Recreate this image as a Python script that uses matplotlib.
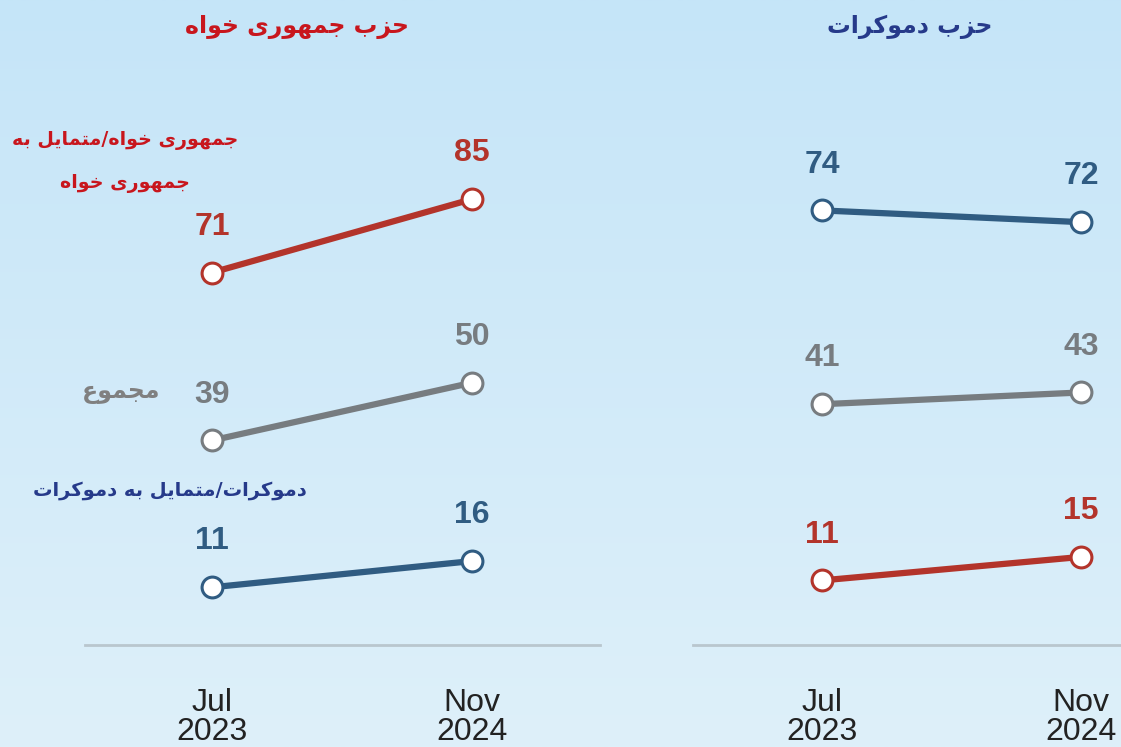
import numpy as np
import matplotlib
matplotlib.use("Agg")
import matplotlib.pyplot as plt

# داده ها
months = ["Jul\n2023", "Nov\n2024"]

rep_rep = [71, 85]     # جمهوری خواه/متمایل به جمهوری خواه
rep_total = [39, 50]   # مجموع
rep_dem = [11, 16]     # دموکرات/متمایل به دموکرات

dem_dem = [74, 72]
dem_total = [41, 43]
dem_rep = [11, 15]

title_rep = "حزب جمهوری خواه"
title_dem = "حزب دموکرات"
lab_rep = "جمهوری خواه/متمایل به\nجمهوری خواه"
lab_total = "مجموع"
lab_dem = "دموکرات/متمایل به دموکرات"

RED = "#b3342b"
GRAY = "#777c80"
BLUE = "#305c82"
TITLE_RED = "#c8161d"
TITLE_BLUE = "#263a8a"

# شکل دادن حروف فارسی (matplotlib خودش حروف را نمی چسباند)
FORMS = {
    "\u0627": ("\uFE8D", "\uFE8E"),
    "\u062F": ("\uFEA9", "\uFEAA"),
    "\u0631": ("\uFEAD", "\uFEAE"),
    "\u0632": ("\uFEAF", "\uFEB0"),
    "\u0648": ("\uFEED", "\uFEEE"),
    "\u0628": ("\uFE8F", "\uFE90", "\uFE91", "\uFE92"),
    "\u062A": ("\uFE95", "\uFE96", "\uFE97", "\uFE98"),
    "\u062C": ("\uFE9D", "\uFE9E", "\uFE9F", "\uFEA0"),
    "\u062D": ("\uFEA1", "\uFEA2", "\uFEA3", "\uFEA4"),
    "\u062E": ("\uFEA5", "\uFEA6", "\uFEA7", "\uFEA8"),
    "\u0639": ("\uFEC9", "\uFECA", "\uFECB", "\uFECC"),
    "\u0644": ("\uFEDD", "\uFEDE", "\uFEDF", "\uFEE0"),
    "\u0645": ("\uFEE1", "\uFEE2", "\uFEE3", "\uFEE4"),
    "\u0647": ("\uFEE9", "\uFEEA", "\uFEEB", "\uFEEC"),
    "\u06A9": ("\uFB8E", "\uFB8F", "\uFB90", "\uFB91"),
    "\u06CC": ("\uFBFC", "\uFBFD", "\uFBFE", "\uFBFF"),
}


def shape_line(s):
    out = []
    for i, c in enumerate(s):
        if c not in FORMS:
            out.append(c)
            continue
        prev = s[i - 1] if i > 0 else None
        nxt = s[i + 1] if i + 1 < len(s) else None
        jp = prev in FORMS and len(FORMS[prev]) == 4
        jn = len(FORMS[c]) == 4 and nxt in FORMS
        f = FORMS[c]
        if jp and jn:
            out.append(f[3])
        elif jp:
            out.append(f[1])
        elif jn:
            out.append(f[2])
        else:
            out.append(f[0])
    return "".join(out[::-1])


def fa(s):
    return "\n".join(shape_line(l) for l in s.split("\n"))


W, H = 1121, 747
fig = plt.figure(figsize=(W / 100, H / 100), dpi=100)

# پس زمینه گرادیان
bg = fig.add_axes([0, 0, 1, 1])
top = np.array([197, 229, 248]) / 255
bot = np.array([222, 240, 250]) / 255
t = np.linspace(0, 1, 256)[:, None]
grad = top[None, :] * (1 - t) + bot[None, :] * t
bg.imshow(grad[:, None, :], aspect="auto", extent=[0, 1, 0, 1])
bg.set_axis_off()


def px_axes(x0, x1, y_top, y_bot):
    return fig.add_axes([x0 / W, 1 - y_bot / H, (x1 - x0) / W, (y_bot - y_top) / H])


ax1 = px_axes(85, 600, 100, 645)
ax2 = px_axes(693, 1121, 100, 645)

ax1.set_xlim(-0.488, 1.492)
ax1.set_ylim(0, 103.9)
ax2.set_xlim(-0.498, 1.154)
ax2.set_ylim(0, 92.8)

x = [0, 1]
for ax, series in [
    (ax1, [(rep_rep, RED), (rep_total, GRAY), (rep_dem, BLUE)]),
    (ax2, [(dem_dem, BLUE), (dem_total, GRAY), (dem_rep, RED)]),
]:
    ax.set_facecolor("none")
    for vals, col in series:
        ax.plot(x, vals, color=col, lw=4.5, marker="o", ms=15, mfc="white",
                mec=col, mew=2.2, solid_capstyle="butt", zorder=3)
        for xi, v in zip(x, vals):
            ax.annotate(str(v), (xi, v), xytext=(0, 33), textcoords="offset points",
                        ha="center", va="center", fontsize=23, fontweight="bold",
                        color=col, family="Liberation Sans")
    for s in ["top", "left", "right"]:
        ax.spines[s].set_visible(False)
    ax.spines["bottom"].set_color("#b9c6ce")
    ax.spines["bottom"].set_linewidth(2)
    ax.set_yticks([])
    ax.set_xticks(x)
    ax.set_xticklabels(months, fontsize=23, color="#222222", linespacing=0.95,
                       family="Liberation Sans")
    ax.tick_params(axis="x", length=0, pad=31)

# عنوان ها و برچسب ها
fig.text(297 / W, 1 - 27 / H, fa(title_rep), ha="center", va="center",
         fontsize=17, fontweight="bold", color=TITLE_RED, family="DejaVu Sans")
fig.text(910 / W, 1 - 27 / H, fa(title_dem), ha="center", va="center",
         fontsize=17, fontweight="bold", color=TITLE_BLUE, family="DejaVu Sans")
fig.text(125 / W, 1 - 162 / H, fa(lab_rep), ha="center", va="center",
         fontsize=13.7, fontweight="bold", color=TITLE_RED, family="DejaVu Sans",
         linespacing=2.5)
fig.text(121 / W, 1 - 392 / H, fa(lab_total), ha="center", va="center",
         fontsize=17, fontweight="bold", color="#808080", family="DejaVu Sans")
fig.text(170 / W, 1 - 490 / H, fa(lab_dem), ha="center", va="center",
         fontsize=14, fontweight="bold", color=TITLE_BLUE, family="DejaVu Sans")

fig.savefig("out.png", dpi=100)
